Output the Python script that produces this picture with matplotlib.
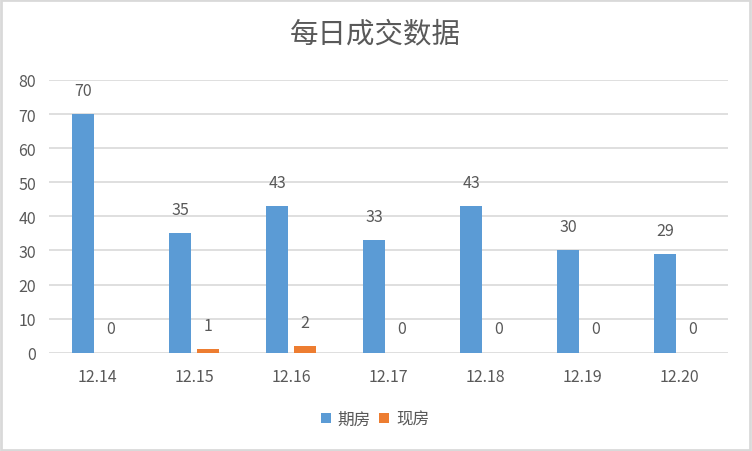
import matplotlib
matplotlib.use('Agg')
import matplotlib.pyplot as plt
import numpy as np
from matplotlib.patches import Rectangle

plt.rcParams['font.family'] = ['Noto Sans CJK SC', 'DejaVu Sans']

# data
dates = ['12.14', '12.15', '12.16', '12.17', '12.18', '12.19', '12.20']
futures = [70, 35, 43, 33, 43, 30, 29]   # 期房
spot = [0, 1, 2, 0, 0, 0, 0]             # 现房
series_names = ['期房', '现房']

blue = '#5b9bd5'
orange = '#ed7d31'
txt = '#595959'
grid = '#d9d9d9'

fig = plt.figure(figsize=(7.52, 4.52), dpi=100)
ax = fig.add_axes([0.0645, 0.2175, 0.903, 0.6033])

x = np.arange(len(dates))
w = 0.227
off = 0.142
b1 = ax.bar(x - off, futures, w, color=blue, label=series_names[0], zorder=3)
b2 = ax.bar(x + off, spot, w, color=orange, label=series_names[1], zorder=3)

for bars, vals in [(b1, futures), (b2, spot)]:
    for r, v in zip(bars, vals):
        ax.annotate(str(v), (r.get_x() + r.get_width() / 2, v),
                    xytext=(0, 11), textcoords='offset points',
                    ha='center', va='bottom', fontsize=11.5, color=txt)

ax.set_xlim(-0.5, len(dates) - 0.5)
ax.set_ylim(0, 80)
ax.set_yticks(range(0, 81, 10))
ax.set_xticks(x)
ax.set_xticklabels(dates)
ax.tick_params(axis='both', length=0, labelsize=11.5, labelcolor=txt)
ax.tick_params(axis='y', pad=9)
ax.tick_params(axis='x', pad=11)
ax.yaxis.grid(True, color=grid, lw=1.2, zorder=0)
ax.set_axisbelow(True)
for s in ax.spines.values():
    s.set_visible(False)

fig.text(0.4987, 0.925, '每日成交数据', ha='center', va='center',
         fontsize=20.5, color=txt)

fig.legend(handles=[b1, b2], labels=series_names, loc='center',
           bbox_to_anchor=(0.4987, 0.07), ncol=2, frameon=False,
           fontsize=12, labelcolor=txt, handlelength=0.6,
           handleheight=0.6, handletextpad=0.4, columnspacing=0.5)

fig.patches.append(Rectangle((0.001, 0.002), 0.997, 0.995, transform=fig.transFigure,
                             fill=False, edgecolor=grid, lw=2))

fig.savefig('out.png', dpi=100)
